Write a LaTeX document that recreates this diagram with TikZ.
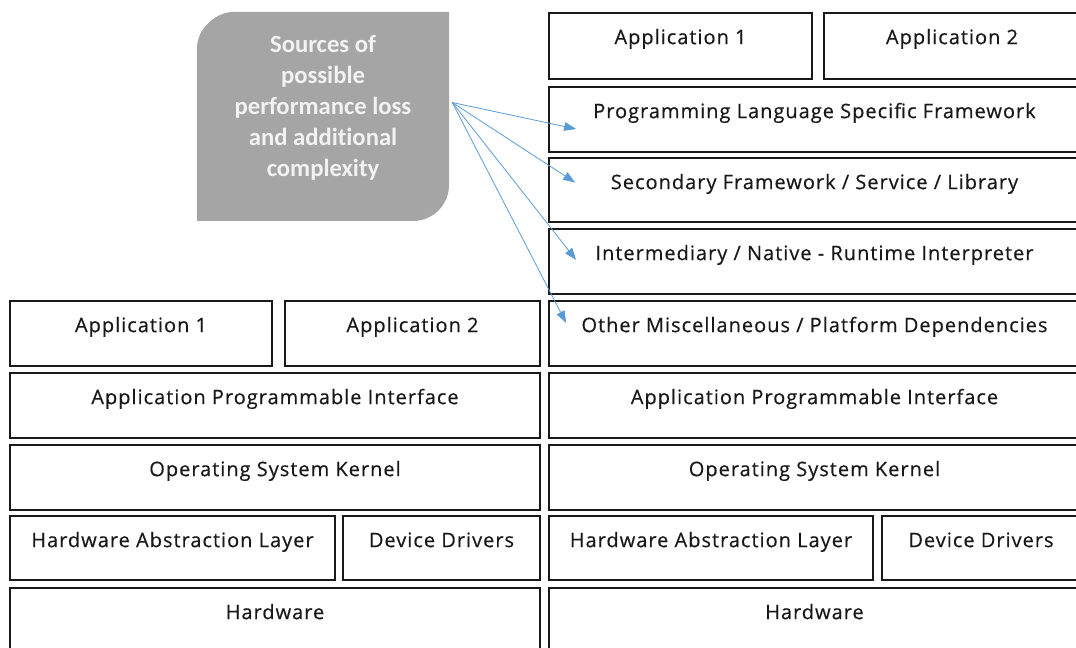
\documentclass[tikz,border=0pt]{standalone}
\usepackage{fontspec}
\setmainfont{Open Sans}[LetterSpace=5, FakeBold=0.4]
\newfontfamily\calloutfont{Carlito}[Ligatures=NoCommon]
\usetikzlibrary{fit,calc,arrows.meta}

\definecolor{calloutgrey}{HTML}{A5A5A5}
\definecolor{arrowblue}{HTML}{5B9BD5}

\tikzset{
  layerbox/.style={draw=black!90, line width=1.3pt, inner sep=0pt, fill=white},
  layertext/.style={font=\fontsize{15pt}{18pt}\selectfont, text=black!90, inner sep=0pt, anchor=base},
  callouttext/.style={font=\calloutfont\bfseries\fontsize{18.5pt}{23.25pt}\selectfont,
                      text=white!95!black, align=center, inner sep=0pt},
  leak/.style={draw=arrowblue, line width=0.6pt, -{Triangle[length=9pt,width=6.5pt]}}
}

% \layer{name}{x1}{y1}{x2}{y2}{label}: a framed layer with its label near the top
\newcommand\layer[6]{%
  \node[layerbox, fit={(#2,#3)(#4,#5)}] (#1) {};
  \node[layertext] (#1-t) at ([yshift=-24pt]#1.north) {#6};
}

\begin{document}
\begin{tikzpicture}[x=0.75pt,y=-0.75pt]
  \useasboundingbox (0,0) rectangle (1076,648);
  \clip (0,0) rectangle (1076,648);

  % left stack
  \layer{lapp1}{10}{301}{272}{366}{Application 1}
  \layer{lapp2}{285}{301}{540}{366}{Application 2}
  \layer{lapi}{10}{373}{540}{438}{Application Programmable Interface}
  \layer{lkern}{10}{445}{540}{510}{Operating System Kernel}
  \layer{lhal}{10}{516}{335}{580}{Hardware Abstraction Layer}
  \layer{ldrv}{343}{516}{540}{580}{Device Drivers}
  \layer{lhw}{10}{588}{540}{680}{Hardware}

  % right stack
  \layer{rapp1}{549}{13}{812}{79}{Application 1}
  \layer{rapp2}{824}{13}{1080}{79}{Application 2}
  \layer{rlang}{549}{87}{1080}{152}{Programming Language Specific Framework}
  \layer{rsec}{549}{158}{1080}{222}{Secondary Framework / Service / Library}
  \layer{rint}{549}{229}{1080}{294}{Intermediary / Native - Runtime Interpreter}
  \layer{rmisc}{549}{301}{1080}{366}{Other Miscellaneous / Platform Dependencies}
  \layer{rapi}{549}{373}{1080}{438}{Application Programmable Interface}
  \layer{rkern}{549}{445}{1080}{510}{Operating System Kernel}
  \layer{rhal}{549}{516}{873}{580}{Hardware Abstraction Layer}
  \layer{rdrv}{882}{516}{1080}{580}{Device Drivers}
  \layer{rhw}{549}{588}{1080}{680}{Hardware}

  % callout with two rounded corners
  \fill[calloutgrey] (197,221) -- (197,48)
    .. controls (197,28.1) and (216.9,12) .. (233,12)
    -- (449,12) -- (449,185)
    .. controls (449,204.9) and (432.9,221) .. (413,221) -- cycle;
  \node[inner sep=0pt, fit={(197,12)(449,221)}] (src) {};
  \node[callouttext] (src-t) at ($(src.center)+(0,-9)$)
    {Sources of\\possible\\performance loss\\and additional\\complexity};

  % arrows into the extra layers
  \coordinate (o) at ($(src.east)+(3,-14)$);
  \draw[leak] (o) -- ($(rlang.west)+(28,9.5)$);
  \draw[leak] (o) -- ($(rsec.west)+(27,-7.5)$);
  \draw[leak] (o) -- ($(rint.west)+(28,-1.5)$);
  \draw[leak] (o) -- ($(rmisc.west)+(18,-10.5)$);
\end{tikzpicture}
\end{document}
